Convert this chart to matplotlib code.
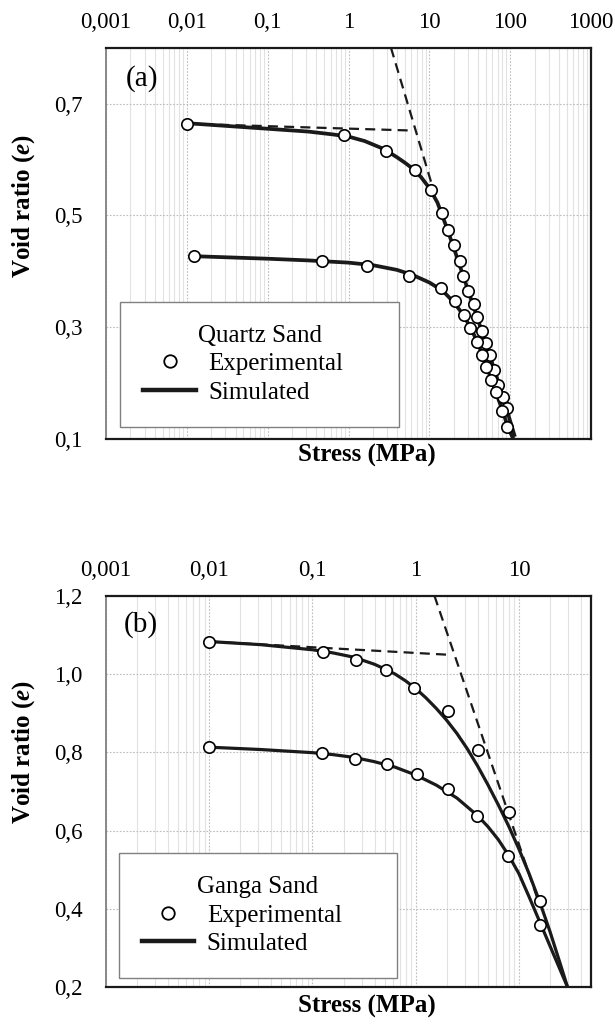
import matplotlib
matplotlib.use('Agg')
import matplotlib.pyplot as plt
from matplotlib.lines import Line2D
from matplotlib.ticker import FixedLocator, FixedFormatter, LogLocator, NullFormatter

# ---------------- data: (a) Quartz sand ----------------
qs_upper_exp_stress = [0.0101, 0.88, 2.94, 6.65, 10.4, 14.2, 16.8, 20.1, 24.0, 26.4,
                       30.5, 35.2, 39.4, 44.6, 50.0, 55.5, 63.4, 71.6, 81.2, 91.0]
qs_upper_exp_e = [0.664, 0.643, 0.6155, 0.5816, 0.5446, 0.505, 0.4745, 0.4464, 0.418, 0.3916,
                  0.365, 0.341, 0.318, 0.2934, 0.271, 0.25, 0.223, 0.1964, 0.1745, 0.155]
qs_lower_exp_stress = [0.0123, 0.476, 1.67, 5.56, 14.1, 20.9, 27.0, 31.4, 38.7, 44.6,
                       50.5, 57.7, 66.5, 78.8, 92.6]
qs_lower_exp_e = [0.4274, 0.4184, 0.410, 0.3917, 0.370, 0.3464, 0.3227, 0.2988, 0.2738, 0.25,
                  0.229, 0.2054, 0.1834, 0.1505, 0.122]
qs_upper_sim_stress = [0.01, 0.0316, 0.1, 0.316, 0.631, 1.0, 1.585, 2.512, 3.162, 3.981,
                       5.012, 6.31, 7.943, 10.0, 12.59, 15.85, 19.95, 25.12, 31.62, 39.81,
                       50.12, 63.1, 79.43, 100.0, 114.3]
qs_upper_sim_e = [0.665, 0.660, 0.655, 0.650, 0.645, 0.641, 0.633, 0.621, 0.613, 0.604,
                  0.594, 0.583, 0.568, 0.549, 0.523, 0.484, 0.443, 0.400, 0.357, 0.314,
                  0.270, 0.226, 0.180, 0.132, 0.104]
qs_lower_sim_stress = [0.0123, 0.0316, 0.1, 0.316, 1.0, 1.995, 3.981, 6.31, 10.0, 12.59,
                       15.85, 19.95, 25.12, 31.62, 39.81, 50.12, 63.1, 79.43, 95.5, 109.6]
qs_lower_sim_e = [0.427, 0.425, 0.4225, 0.4195, 0.4155, 0.411, 0.4025, 0.393, 0.380, 0.371,
                  0.360, 0.345, 0.326, 0.302, 0.272, 0.233, 0.193, 0.153, 0.118, 0.100]
qs_ref1_stress = [0.01, 5.6]
qs_ref1_e = [0.664, 0.652]
qs_ref2_stress = [3.35, 11.0]
qs_ref2_e = [0.80, 0.55]

# ---------------- data: (b) Ganga sand ----------------
gs_upper_exp_stress = [0.01, 0.126, 0.266, 0.519, 0.973, 2.04, 4.0, 8.04, 16.1]
gs_upper_exp_e = [1.083, 1.055, 1.036, 1.011, 0.9655, 0.9067, 0.806, 0.648, 0.4207]
gs_lower_exp_stress = [0.01, 0.1245, 0.260, 0.522, 1.03, 2.04, 3.93, 7.9, 15.9]
gs_lower_exp_e = [0.813, 0.7977, 0.783, 0.770, 0.744, 0.706, 0.637, 0.535, 0.3586]
gs_upper_sim_stress = [0.01, 0.0316, 0.1, 0.158, 0.251, 0.398, 0.501, 0.631, 0.794, 1.0,
                       1.259, 1.585, 1.995, 2.512, 3.162, 3.981, 5.012, 6.31, 7.943, 10.0,
                       12.59, 15.85, 19.95, 25.12, 29.6]
gs_upper_sim_e = [1.083, 1.075, 1.062, 1.054, 1.043, 1.025, 1.013, 1.000, 0.983, 0.963,
                  0.939, 0.912, 0.882, 0.848, 0.809, 0.765, 0.717, 0.666, 0.612, 0.553,
                  0.489, 0.419, 0.343, 0.260, 0.200]
gs_lower_sim_stress = [0.01, 0.0316, 0.1, 0.158, 0.251, 0.398, 0.631, 1.0, 1.585, 2.512,
                       3.981, 5.012, 6.31, 7.943, 10.0, 12.59, 15.85, 19.95, 25.12, 29.6]
gs_lower_sim_e = [0.813, 0.807, 0.799, 0.794, 0.787, 0.776, 0.762, 0.742, 0.716, 0.683,
                  0.638, 0.610, 0.577, 0.537, 0.490, 0.430, 0.368, 0.306, 0.244, 0.200]
gs_ref1_stress = [0.01, 2.15]
gs_ref1_e = [1.083, 1.049]
gs_ref2_stress = [1.52, 15.4]
gs_ref2_e = [1.20, 0.42]

# ---------------- ticks ----------------
a_xticks = [0.001, 0.01, 0.1, 1, 10, 100, 1000]
a_xticklabels = ['0,001', '0,01', '0,1', '1', '10', '100', '1000']
a_yticks = [0.1, 0.3, 0.5, 0.7]
a_yticklabels = ['0,1', '0,3', '0,5', '0,7']
b_xticks = [0.001, 0.01, 0.1, 1, 10]
b_xticklabels = ['0,001', '0,01', '0,1', '1', '10']
b_yticks = [0.2, 0.4, 0.6, 0.8, 1.0, 1.2]
b_yticklabels = ['0,2', '0,4', '0,6', '0,8', '1,0', '1,2']

plt.rcParams['font.family'] = ['Liberation Serif', 'DejaVu Serif']
plt.rcParams['mathtext.fontset'] = 'custom'
plt.rcParams['mathtext.rm'] = 'Liberation Serif'
plt.rcParams['mathtext.it'] = 'Liberation Serif:italic'
plt.rcParams['mathtext.bf'] = 'Liberation Serif:bold'
plt.rcParams['mathtext.bfit'] = 'Liberation Serif:italic:bold'

fig = plt.figure(figsize=(6.15, 10.24), dpi=100)
ax1 = fig.add_axes([0.1724, 0.5713, 0.7886, 0.3821])
ax2 = fig.add_axes([0.1724, 0.0361, 0.7886, 0.3821])

TICK_FS = 16.5
LAB_FS = 18
LEG_FS = 18


def style(ax, xlim, ylim, xt, xtl, yt, ytl, label_y, xlab_y):
    ax.set_xscale('log')
    ax.set_xlim(*xlim)
    ax.set_ylim(*ylim)
    ax.xaxis.set_major_locator(FixedLocator(xt))
    ax.xaxis.set_major_formatter(FixedFormatter(xtl))
    ax.xaxis.set_minor_locator(LogLocator(base=10, subs=[2, 3, 4, 5, 6, 7, 8, 9], numticks=50))
    ax.xaxis.set_minor_formatter(NullFormatter())
    ax.yaxis.set_major_locator(FixedLocator(yt))
    ax.yaxis.set_major_formatter(FixedFormatter(ytl))
    ax.xaxis.tick_top()
    ax.tick_params(axis='x', which='both', length=0, pad=10.5, labelsize=TICK_FS,
                   top=True, bottom=False, labeltop=True, labelbottom=False)
    ax.tick_params(axis='y', which='both', length=0, pad=17, labelsize=TICK_FS)
    ax.grid(True, which='minor', axis='x', color='#e2e2e2', linewidth=0.8, linestyle='-')
    ax.grid(True, which='major', axis='both', color='#bcbcbc', linewidth=0.8,
            linestyle=(0, (1.5, 1.5)))
    ax.set_axisbelow(True)
    for side in ['top', 'right', 'bottom']:
        ax.spines[side].set_color('#1a1a1a')
        ax.spines[side].set_linewidth(1.6)
    ax.spines['left'].set_color('#808080')
    ax.spines['left'].set_linewidth(1.3)
    ax.set_ylabel(r'Void ratio ($\mathbfit{e}$)', fontsize=LAB_FS, fontweight='bold')
    ax.yaxis.set_label_coords(-0.171, label_y)
    ax.yaxis.label.set_va('center')
    ax.set_xlabel('Stress (MPa)', fontsize=LAB_FS, fontweight='bold')
    ax.xaxis.set_label_position('bottom')
    ax.xaxis.set_label_coords(0.5375, xlab_y)
    ax.xaxis.label.set_va('center')


style(ax1, (0.001, 1000), (0.1, 0.8), a_xticks, a_xticklabels, a_yticks, a_yticklabels,
      0.596, -0.041)
style(ax2, (0.001, 50), (0.2, 1.2), b_xticks, b_xticklabels, b_yticks, b_yticklabels,
      0.601, -0.050)

dash = (0, (4.5, 2.8))
mk = dict(marker='o', linestyle='none', markersize=8.2, markerfacecolor='white',
          markeredgecolor='black', markeredgewidth=1.2, zorder=5)

# (a)
ax1.plot(qs_ref1_stress, qs_ref1_e, color='#1a1a1a', lw=1.6, linestyle=dash, zorder=3)
ax1.plot(qs_ref2_stress, qs_ref2_e, color='#1a1a1a', lw=1.6, linestyle=dash, zorder=3)
ax1.plot(qs_upper_sim_stress, qs_upper_sim_e, color='#1a1a1a', lw=2.7, zorder=4,
         solid_capstyle='butt', solid_joinstyle='round')
ax1.plot(qs_lower_sim_stress, qs_lower_sim_e, color='#1a1a1a', lw=2.7, zorder=4,
         solid_capstyle='butt', solid_joinstyle='round')
ax1.plot(qs_upper_exp_stress, qs_upper_exp_e, **mk)
ax1.plot(qs_lower_exp_stress, qs_lower_exp_e, **mk)
ax1.text(0.041, 0.921, '(a)', transform=ax1.transAxes, fontsize=21, va='center', ha='left')

# (b)
ax2.plot(gs_ref1_stress, gs_ref1_e, color='#1a1a1a', lw=1.6, linestyle=dash, zorder=3)
ax2.plot(gs_ref2_stress, gs_ref2_e, color='#1a1a1a', lw=1.6, linestyle=dash, zorder=3)
ax2.plot(gs_upper_sim_stress, gs_upper_sim_e, color='#1a1a1a', lw=2.3, zorder=4,
         solid_capstyle='butt', solid_joinstyle='round')
ax2.plot(gs_lower_sim_stress, gs_lower_sim_e, color='#1a1a1a', lw=2.3, zorder=4,
         solid_capstyle='butt', solid_joinstyle='round')
ax2.plot(gs_upper_exp_stress, gs_upper_exp_e, **mk)
ax2.plot(gs_lower_exp_stress, gs_lower_exp_e, **mk)
ax2.text(0.037, 0.926, '(b)', transform=ax2.transAxes, fontsize=21, va='center', ha='left')


def add_legend(ax, title, bbox):
    handles = [Line2D([], [], marker='o', linestyle='none', markersize=9,
                      markerfacecolor='white', markeredgecolor='black', markeredgewidth=1.3),
               Line2D([], [], color='#1a1a1a', lw=3.2)]
    leg = ax.legend(handles, ['Experimental', 'Simulated'], title=title,
                    loc='upper left', bbox_to_anchor=bbox, mode='expand',
                    borderaxespad=0, fontsize=LEG_FS, title_fontsize=LEG_FS,
                    frameon=True, fancybox=False, framealpha=1, edgecolor='#808080',
                    borderpad=0.92, handlelength=2.1, handletextpad=0.5,
                    labelspacing=0.24)
    leg.get_frame().set_linewidth(1.0)
    leg.set_zorder(6)


add_legend(ax1, 'Quartz Sand', (0.0297, 0.038, 0.575, 0.313))
add_legend(ax2, 'Ganga Sand', (0.0264, 0.031, 0.574, 0.311))

fig.savefig('out.png', dpi=100)
